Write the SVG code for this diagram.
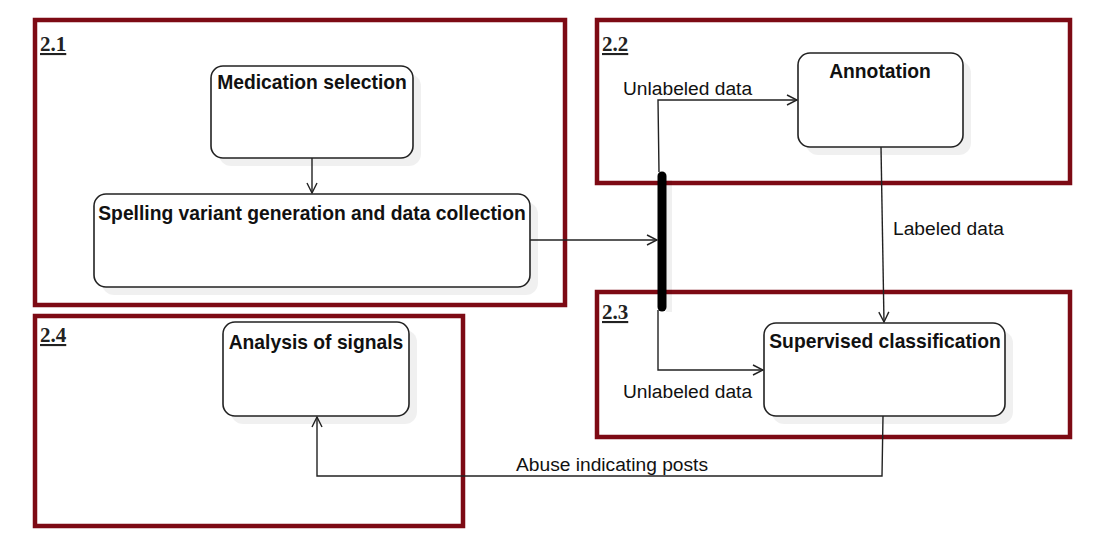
<svg xmlns="http://www.w3.org/2000/svg" width="1107" height="538" viewBox="0 0 1107 538">
<style>
.frame{fill:none;stroke:#7d0a14;stroke-width:4.5}
.box{fill:#fff;stroke:#222;stroke-width:1.6}
.shadow{fill:#000;opacity:0.06}
.title{font-family:"Liberation Sans",Arial,sans-serif;font-weight:bold;font-size:19.3px;fill:#111;text-anchor:middle}
.lbl{font-family:"Liberation Sans",Arial,sans-serif;font-size:19.2px;fill:#111}
.sec{font-family:"Liberation Serif","Times New Roman",serif;font-weight:bold;font-size:21px;fill:#222;text-decoration:underline}
.conn{fill:none;stroke:#222;stroke-width:1.4}
</style>
<defs>
<marker id="open" viewBox="0 0 12 12" refX="11" refY="6" markerWidth="12" markerHeight="12" markerUnits="userSpaceOnUse" orient="auto">
<path d="M1,1 L11,6 L1,11" fill="none" stroke="#222" stroke-width="1.4"/>
</marker>
</defs>
<rect width="1107" height="538" fill="#fff"/>
<g id="frame-2-1"><rect class="frame" x="35" y="20" width="530" height="285"/><text class="sec" x="40" y="51">2.1</text></g>
<g id="frame-2-2"><rect class="frame" x="597" y="20" width="473" height="163"/><text class="sec" x="602" y="51">2.2</text></g>
<g id="frame-2-3"><rect class="frame" x="597" y="292" width="473" height="145"/><text class="sec" x="602" y="319">2.3</text></g>
<g id="frame-2-4"><rect class="frame" x="35" y="316" width="428" height="210"/><text class="sec" x="40" y="342">2.4</text></g>
<g id="medication-selection"><rect class="shadow" x="219" y="74" width="202" height="92" rx="12"/><rect class="box" x="211" y="66" width="202" height="92" rx="12"/><text class="title" x="312" y="89">Medication selection</text></g>
<g id="spelling-variant"><rect class="shadow" x="102" y="202" width="436" height="93" rx="12"/><rect class="box" x="94" y="194" width="436" height="93" rx="12"/><text class="title" x="312" y="220">Spelling variant generation and data collection</text></g>
<g id="annotation"><rect class="shadow" x="806" y="61" width="165" height="94" rx="12"/><rect class="box" x="798" y="53" width="165" height="94" rx="12"/><text class="title" x="880" y="78">Annotation</text></g>
<g id="supervised-classification"><rect class="shadow" x="772" y="331" width="241" height="93" rx="12"/><rect class="box" x="764" y="323" width="241" height="93" rx="12"/><text class="title" x="885" y="348">Supervised classification</text></g>
<g id="analysis-of-signals"><rect class="shadow" x="231" y="330" width="186" height="94" rx="12"/><rect class="box" x="223" y="322" width="186" height="94" rx="12"/><text class="title" x="316" y="349">Analysis of signals</text></g>
<g id="fork-bar"><rect x="666" y="180" width="6" height="132" fill="#000" opacity="0.06"/><line x1="662" y1="176" x2="662" y2="307" stroke="#000" stroke-width="9" stroke-linecap="round"/></g>
<g id="connectors">
<line class="conn" x1="312" y1="158" x2="312" y2="193" marker-end="url(#open)"/>
<line class="conn" x1="530" y1="240" x2="657" y2="240" marker-end="url(#open)"/>
<polyline class="conn" points="659,172 658,100 797,100" marker-end="url(#open)"/>
<polyline class="conn" points="881,147 884,322" marker-end="url(#open)"/>
<polyline class="conn" points="658,310 658,370 763,370" marker-end="url(#open)"/>
<polyline class="conn" points="883,416 882,476 317,476 317,417" marker-end="url(#open)"/>
<text class="lbl" x="623" y="95">Unlabeled data</text>
<text class="lbl" x="893" y="235">Labeled data</text>
<text class="lbl" x="623" y="398">Unlabeled data</text>
<text class="lbl" x="516" y="471">Abuse indicating posts</text>
</g>
</svg>
